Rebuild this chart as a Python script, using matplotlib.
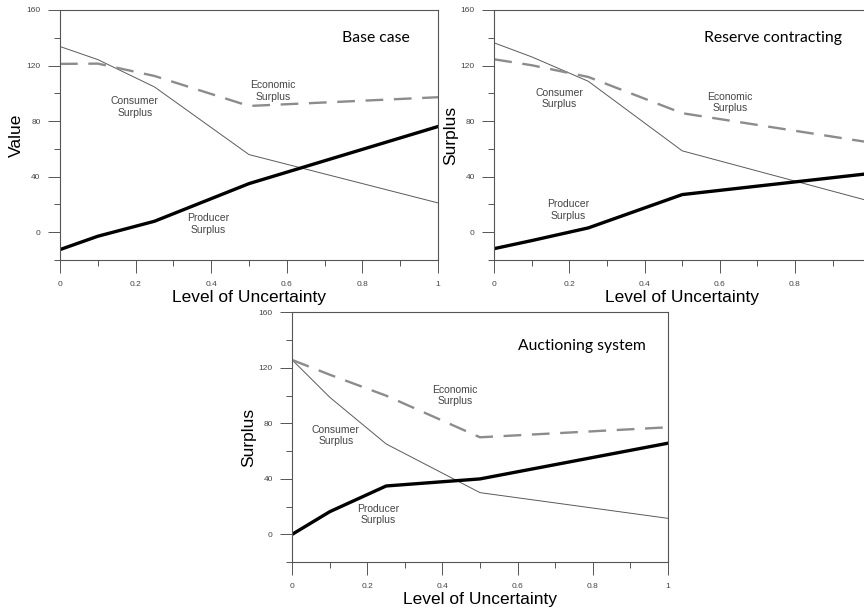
import numpy as np
import matplotlib
matplotlib.use("Agg")
import matplotlib.pyplot as plt
from matplotlib.ticker import MultipleLocator

plt.rcParams['font.family'] = ['Liberation Sans', 'DejaVu Sans']

# uncertainty levels shared by all cases
levels = [0, 0.1, 0.25, 0.5, 1.0]

# base case
base_consumer = [133.7, 124.3, 104.6, 55.9, 21.1]
base_producer = [-12.5, -2.9, 7.9, 35.0, 76.1]
base_economic = [121.2, 121.4, 112.5, 90.9, 97.2]

# reserve contracting
reserve_consumer = [136.3, 126.2, 108.7, 58.6, 22.3]
reserve_producer = [-11.8, -6.0, 3.1, 27.1, 42.3]
reserve_economic = [124.5, 120.2, 111.8, 85.7, 64.6]

# auctioning system
auction_consumer = [125.6, 98.7, 65.1, 30.0, 11.5]
auction_producer = [0.0, 16.3, 34.8, 39.9, 65.6]
auction_economic = [125.6, 115.0, 99.9, 69.9, 77.1]

xtick_labels = ['0', '0.2', '0.4', '0.6', '0.8', '1']

W, H = 864, 609
fig = plt.figure(figsize=(W / 100, H / 100), dpi=100)


def panel(rect, cons, prod, econ, ylabel, title, title_xy, labels,
          xlabels=xtick_labels):
    l, t, r, b = rect
    ax = fig.add_axes([l / W, 1 - b / H, (r - l) / W, (b - t) / H])
    ax.plot(levels, cons, color='#5a5a5a', lw=0.7)
    ax.plot(levels, econ, color='#8c8c8c', lw=1.7, dashes=(7.5, 4.5))
    ax.plot(levels, prod, color='black', lw=2.4)
    ax.set_xlim(0, 1)
    ax.set_ylim(-20, 160)
    ax.xaxis.set_major_locator(MultipleLocator(0.2))
    ax.xaxis.set_minor_locator(MultipleLocator(0.1))
    ax.yaxis.set_major_locator(MultipleLocator(40))
    ax.yaxis.set_minor_locator(MultipleLocator(20))
    ax.set_yticks([0, 40, 80, 120, 160])
    ax.set_xticks([0, 0.2, 0.4, 0.6, 0.8, 1.0])
    ax.set_xticklabels(xlabels)
    ax.tick_params(which='both', direction='out', width=0.7,
                   color='#555555', labelsize=6, labelcolor='#444444')
    ax.tick_params(which='major', length=9)
    ax.tick_params(which='minor', length=4)
    ax.tick_params(axis='x', pad=6)
    ax.tick_params(axis='y', pad=5)
    for s in ax.spines.values():
        s.set_linewidth(0.8)
        s.set_color('#555555')
    ax.set_xlabel('Level of Uncertainty', fontsize=12.5, labelpad=1.5)
    ax.set_ylabel(ylabel, fontsize=12.5, labelpad=1.5)
    ax.text(title_xy[0], title_xy[1], title, family=['Lato', 'DejaVu Sans'],
            fontsize=11.3, ha='center', va='center')
    for (x, y), txt in zip(labels, ['Consumer\nSurplus', 'Economic\nSurplus',
                                    'Producer\nSurplus']):
        ax.text(x, y, txt, fontsize=7.5, color='#444444', ha='center',
                va='center', linespacing=1.15)
    return ax


panel((60, 10, 438, 260), base_consumer, base_producer, base_economic,
      'Value', 'Base case', (0.835, 139.6),
      [(0.198, 90.1), (0.564, 101.7), (0.391, 5.9)])
# this panel runs past the right edge of the canvas, so its last tick label is dropped
panel((494.3, 10, 870.1, 260), reserve_consumer, reserve_producer,
      reserve_economic, 'Surplus', 'Reserve contracting', (0.742, 139.6),
      [(0.174, 96.3), (0.627, 93.2), (0.196, 16.0)],
      xlabels=xtick_labels[:-1] + [''])
panel((292.3, 312.3, 667.7, 562), auction_consumer, auction_producer,
      auction_economic, 'Surplus', 'Auctioning system', (0.771, 135.8),
      [(0.116, 71.0), (0.434, 99.8), (0.228, 14.4)])

fig.savefig('out.png', dpi=100)
